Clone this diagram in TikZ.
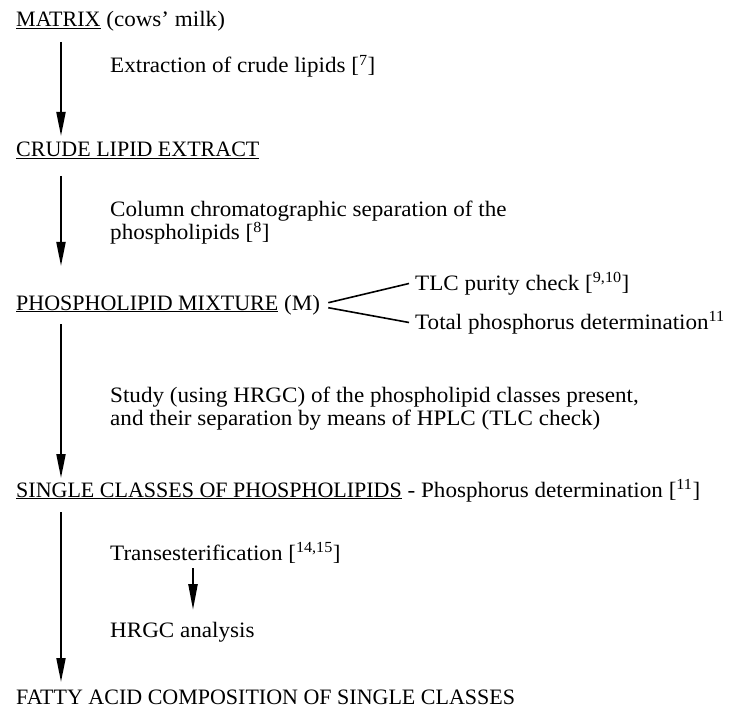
\documentclass[tikz,border=0pt]{standalone}
\usepackage{fontspec}
\setmainfont[FakeStretch=1.05]{Liberation Serif}
\newfontfamily\capsfont{Liberation Serif}
\usetikzlibrary{positioning, arrows.meta}
\newcommand{\ulcaps}[1]{\underline{\capsfont #1}}

\begin{document}
\begin{tikzpicture}[x=1pt, y=-1pt,
  every node/.style={inner sep=0pt, font=\fontsize{22}{23}\selectfont},
  stage/.style={anchor=base west},
  note/.style={anchor=base west, align=left},
  flow/.style={line width=2pt, -{Triangle[length=24pt, width=9pt]}},
  subflow/.style={line width=2.4pt, -{Triangle[length=26pt, width=9pt]}},
  branch/.style={line width=1.6pt}]
\useasboundingbox (0,0) rectangle (741,711);
% main stages
\node[stage] (matrix) at (16,27) {\ulcaps{MATRIX} (cows' milk)};
\node[stage] (crude) at (16,157) {\ulcaps{CRUDE LIPID EXTRACT}};
\node[stage] (mix) at (16,310) {\ulcaps{PHOSPHOLIPID MIXTURE} (M)};
\node[stage] (single) at (16,497) {\ulcaps{SINGLE CLASSES OF PHOSPHOLIPIDS} - Phosphorus determination [\textsuperscript{11}]};
\node[stage] (fatty) at (16,704) {\capsfont FATTY ACID COMPOSITION OF SINGLE CLASSES};
% steps
\node[note] (extract) at (110,73) {Extraction of crude lipids [\textsuperscript{7}]};
\node[note] (column) at (110,240) {Column chromatographic separation of the\\phospholipids [\textsuperscript{8}]};
\node[note] (study) at (110,425) {Study (using HRGC) of the phospholipid classes present,\\and their separation by means of HPLC (TLC check)};
\node[note] (trans) at (110,560) {Transesterification [\textsuperscript{14,15}]};
\node[note] (hrgc) at (110,637) {HRGC analysis};
% side checks
\node[note] (tlc) at (415,290) {TLC purity check [\textsuperscript{9,10}]};
\node[note] (total) at (415,329) {Total phosphorus determination\textsuperscript{11}};
% arrows
\coordinate (a1) at (61,42);
\coordinate (b1) at (61,136);
\coordinate (a2) at (61,176);
\coordinate (b2) at (61,266);
\coordinate (a3) at (61,324);
\coordinate (b3) at (61,478);
\coordinate (a4) at (61,512);
\coordinate (b4) at (61,682);
\coordinate (a5) at (193,568);
\coordinate (b5) at (193,610);
\draw[flow] (a1) -- (b1);
\draw[flow] (a2) -- (b2);
\draw[flow] (a3) -- (b3);
\draw[flow] (a4) -- (b4);
\draw[subflow] (a5) -- (b5);
\draw[branch] ([shift={(8,-2)}]mix.east) -- ([xshift=-6pt]tlc.west);
\draw[branch] ([shift={(8,3)}]mix.east) -- ([xshift=-6pt]total.west);
\end{tikzpicture}
\end{document}
